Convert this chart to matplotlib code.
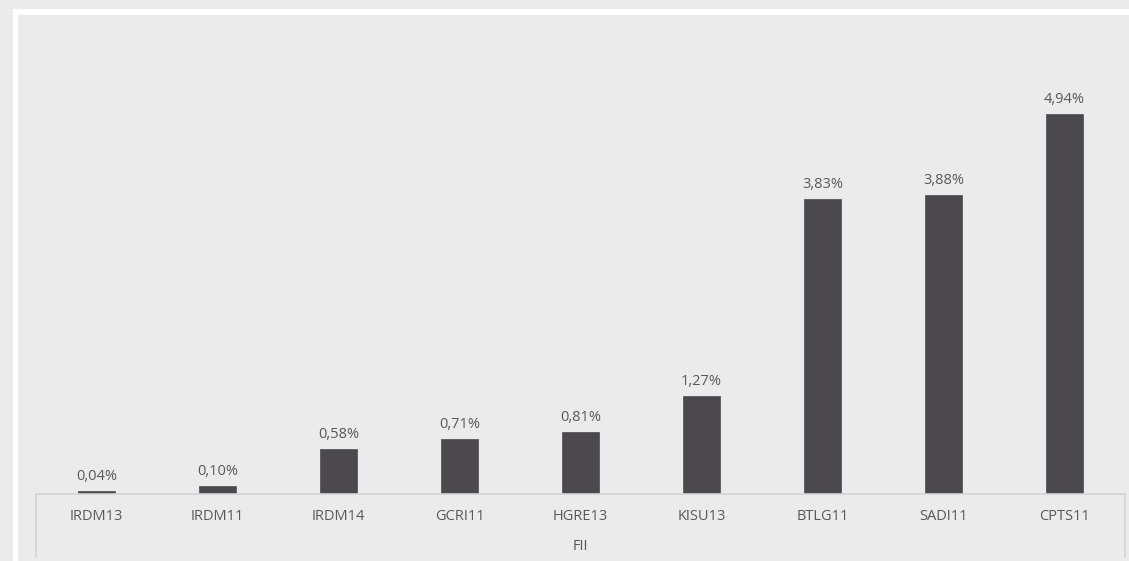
import matplotlib.pyplot as plt
from matplotlib.patches import Rectangle
from matplotlib.lines import Line2D

fundos = ["IRDM13", "IRDM11", "IRDM14", "GCRI11", "HGRE13", "KISU13", "BTLG11", "SADI11", "CPTS11"]
pesos = [0.04, 0.10, 0.58, 0.71, 0.81, 1.27, 3.83, 3.88, 4.94]
grupo = "FII"

W, H = 1129, 561
bg = "#ececec"
bar_color = "#4b484e"
text_color = "#595959"
line_color = "#d4d4d4"
fs = 10.5

plt.rcParams['font.family'] = ['Open Sans', 'DejaVu Sans']

fig = plt.figure(figsize=(W / 100, H / 100), dpi=100, facecolor="#ebebeb")

# white frame at top/left
fig.patches.append(Rectangle((13 / W, 0), 5 / W, (H - 9) / H, transform=fig.transFigure,
                             facecolor="white", edgecolor="none", zorder=0))
fig.patches.append(Rectangle((13 / W, (H - 15) / H), (W - 13) / W, 6 / H, transform=fig.transFigure,
                             facecolor="white", edgecolor="none", zorder=0))

x0, x1 = 36, 1125
y_base, y_top = 494, 20
ax = fig.add_axes([x0 / W, (H - y_base) / H, (x1 - x0) / W, (y_base - y_top) / H])
ax.patch.set_alpha(0)

scale = 77.0  # px per 1%
ax.set_ylim(0, (y_base - y_top) / scale)
ax.set_xlim(-0.5, len(fundos) - 0.5)

xs = range(len(fundos))
ax.bar(xs, pesos, width=0.314, color=bar_color, edgecolor="#5a575d", linewidth=0.6, zorder=2)

for x, v in zip(xs, pesos):
    ax.annotate(f"{v:.2f}%".replace(".", ","), (x, v), xytext=(0, 5), textcoords="offset points",
                ha="center", va="bottom", fontsize=fs, color=text_color)

for s in ax.spines.values():
    s.set_visible(False)
ax.set_yticks([])
ax.set_xticks([])

# category axis lines
fig.lines.append(Line2D([x0 / W, x1 / W], [(H - y_base) / H] * 2, transform=fig.transFigure,
                        color=line_color, linewidth=1.2))
for xp in (x0, x1):
    fig.lines.append(Line2D([xp / W, xp / W], [(H - y_base) / H, (H - 557) / H], transform=fig.transFigure,
                            color=line_color, linewidth=1.2))

for x, name in zip(xs, fundos):
    ax.annotate(name, (x, 0), xytext=(0, -16.5), textcoords="offset points",
                ha="center", va="center", fontsize=fs, color=text_color, annotation_clip=False)

fig.text((x0 + x1) / 2 / W, (H - 547) / H, grupo, ha="center", va="center", fontsize=fs, color=text_color)

fig.savefig("out.png", dpi=100, facecolor=fig.get_facecolor())
